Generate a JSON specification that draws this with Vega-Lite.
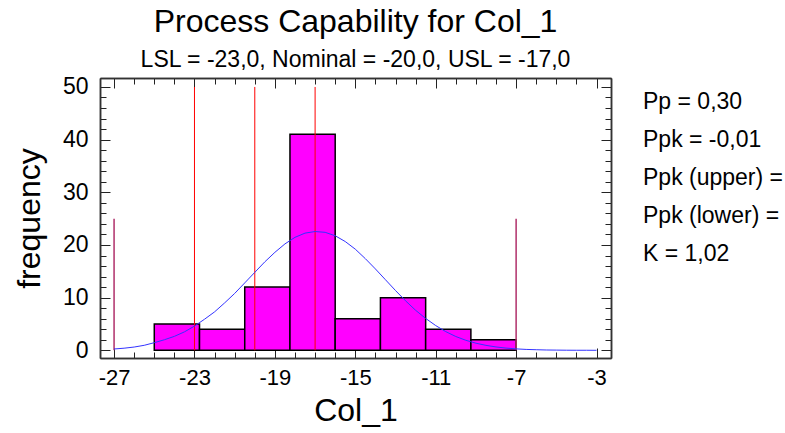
{
  "$schema": "https://vega.github.io/schema/vega-lite/v6.json",
  "background": "white",
  "padding": {"left": 13, "top": 5, "right": 5, "bottom": 5},
  "bounds": "flush",
  "spacing": 22,
  "config": {
    "font": "Liberation Sans",
    "view": {"stroke": null},
    "axis": {"grid": false, "tickColor": "#333333", "tickWidth": 1, "domainColor": "#333333", "domainWidth": 1.5}
  },
  "datasets": {
    "bins": [
      {"bin_start": -25, "bin_end": -22.75, "count": 5},
      {"bin_start": -22.75, "bin_end": -20.5, "count": 4},
      {"bin_start": -20.5, "bin_end": -18.25, "count": 12},
      {"bin_start": -18.25, "bin_end": -16, "count": 41},
      {"bin_start": -16, "bin_end": -13.75, "count": 6},
      {"bin_start": -13.75, "bin_end": -11.5, "count": 10},
      {"bin_start": -11.5, "bin_end": -9.25, "count": 4},
      {"bin_start": -9.25, "bin_end": -7, "count": 2}
    ],
    "specs": [
      {"name": "LSL", "x": -23},
      {"name": "Nominal", "x": -20},
      {"name": "USL", "x": -17}
    ],
    "limits": [
      {"name": "low", "x": -27},
      {"name": "high", "x": -7}
    ],
    "curve": [
      {"x": -27, "f": 0.25}, {"x": -26.5, "f": 0.4}, {"x": -26, "f": 0.62}, {"x": -25.5, "f": 0.95},
      {"x": -25, "f": 1.45}, {"x": -24.5, "f": 2.0}, {"x": -24, "f": 2.65}, {"x": -23.5, "f": 3.5},
      {"x": -23, "f": 4.6}, {"x": -22.5, "f": 5.9}, {"x": -22, "f": 7.3}, {"x": -21.5, "f": 9.0},
      {"x": -21, "f": 10.8}, {"x": -20.5, "f": 12.8}, {"x": -20, "f": 14.8}, {"x": -19.5, "f": 16.8},
      {"x": -19, "f": 18.6}, {"x": -18.5, "f": 20.2}, {"x": -18, "f": 21.45}, {"x": -17.5, "f": 22.25},
      {"x": -17, "f": 22.55}, {"x": -16.5, "f": 22.4}, {"x": -16, "f": 21.75}, {"x": -15.5, "f": 20.65},
      {"x": -15, "f": 19.2}, {"x": -14.5, "f": 17.4}, {"x": -14, "f": 15.45}, {"x": -13.5, "f": 13.4},
      {"x": -13, "f": 11.35}, {"x": -12.5, "f": 9.4}, {"x": -12, "f": 7.6}, {"x": -11.5, "f": 6.05},
      {"x": -11, "f": 4.7}, {"x": -10.5, "f": 3.55}, {"x": -10, "f": 2.62}, {"x": -9.5, "f": 1.9},
      {"x": -9, "f": 1.35}, {"x": -8.5, "f": 0.94}, {"x": -8, "f": 0.64}, {"x": -7.5, "f": 0.42},
      {"x": -7, "f": 0.27}, {"x": -6.5, "f": 0.17}, {"x": -6, "f": 0.11}, {"x": -5.5, "f": 0.06},
      {"x": -5, "f": 0.04}, {"x": -4.5, "f": 0.02}, {"x": -4, "f": 0.01}, {"x": -3.5, "f": 0.01},
      {"x": -3, "f": 0.0}
    ],
    "stats": [
      {"stat": "Pp = 0,30", "order": 1},
      {"stat": "Ppk = -0,01", "order": 2},
      {"stat": "Ppk (upper) =", "order": 3},
      {"stat": "Ppk (lower) =", "order": 4},
      {"stat": "K = 1,02", "order": 5}
    ]
  },
  "hconcat": [
    {
      "width": 511,
      "height": 280,
      "title": {
        "text": "Process Capability for Col_1",
        "subtitle": "LSL = -23,0, Nominal = -20,0, USL = -17,0",
        "fontSize": 32,
        "font": "Liberation Sans",
        "fontWeight": "normal",
        "color": "black",
        "subtitleFont": "Liberation Sans",
        "subtitleFontSize": 23,
        "subtitleColor": "black",
        "subtitlePadding": 10,
        "offset": 3,
        "anchor": "middle",
        "frame": "group"
      },
      "resolve": {"axis": {"x": "independent", "y": "independent"}},
      "layer": [
        {
          "data": {"name": "bins"},
          "mark": {"type": "rect", "fill": "#FF00FF", "stroke": "#000000", "strokeWidth": 1.5},
          "encoding": {
            "x": {
              "field": "bin_start", "type": "quantitative",
              "scale": {"domain": [-27.7, -2.28], "nice": false, "zero": false},
              "axis": {
                "orient": "bottom",
                "title": "Col_1",
                "values": [-27, -23, -19, -15, -11, -7, -3],
                "labelExpr": "'' + datum.value",
                "tickSize": -10,
                "tickColor": "#222222",
                "labelPadding": 19,
                "labelFontSize": 22,
                "labelFont": "Liberation Sans",
                "labelColor": "black",
                "labelOverlap": false,
                "labelFlush": false,
                "labelBound": false,
                "titleFontSize": 32,
                "titleFont": "Liberation Sans",
                "titleFontWeight": "normal",
                "titleColor": "black",
                "titlePadding": 7
              }
            },
            "x2": {"field": "bin_end"},
            "y": {
              "field": "count", "type": "quantitative",
              "scale": {"domain": [-1.46, 51.7], "nice": false, "zero": false},
              "axis": {
                "orient": "left",
                "title": "frequency",
                "values": [0, 10, 20, 30, 40, 50],
                "labelExpr": "'' + datum.value",
                "tickSize": -10,
                "tickColor": "#222222",
                "labelPadding": 22,
                "labelFontSize": 23,
                "labelFont": "Liberation Sans",
                "labelColor": "black",
                "labelOverlap": false,
                "labelFlush": false,
                "labelBound": false,
                "titleFontSize": 32,
                "titleFont": "Liberation Sans",
                "titleFontWeight": "normal",
                "titleColor": "black",
                "titlePadding": 16
              }
            },
            "y2": {"datum": 0}
          }
        },
        {
          "data": {"name": "specs"},
          "mark": {"type": "rule", "color": "#FF0000", "strokeWidth": 1},
          "encoding": {
            "x": {
              "field": "x", "type": "quantitative",
              "scale": {"domain": [-27.7, -2.28], "nice": false, "zero": false},
              "axis": {
                "orient": "bottom",
                "title": null,
                "labels": false,
                "values": [-26,-25,-24,-22,-21,-20,-18,-17,-16,-14,-13,-12,-10,-9,-8,-6,-5,-4],
                "tickSize": -6,
                "tickColor": "#222222"
              }
            },
            "y": {
              "datum": 0, "type": "quantitative",
              "scale": {"domain": [-1.46, 51.7], "nice": false, "zero": false},
              "axis": {
                "orient": "left",
                "title": null,
                "labels": false,
                "values": [2,4,6,8,12,14,16,18,22,24,26,28,32,34,36,38,42,44,46,48],
                "tickSize": -6,
                "tickColor": "#222222"
              }
            },
            "y2": {"datum": 50}
          }
        },
        {
          "data": {"name": "limits"},
          "mark": {"type": "rule", "color": "#B0306A", "strokeWidth": 1.5},
          "encoding": {
            "x": {
              "field": "x", "type": "quantitative",
              "scale": {"domain": [-27.7, -2.28], "nice": false, "zero": false},
              "axis": {
                "orient": "top",
                "title": null,
                "labels": false,
                "values": [-27, -23, -19, -15, -11, -7, -3],
                "tickSize": -10,
                "tickColor": "#222222"
              }
            },
            "y": {
              "datum": 0, "type": "quantitative",
              "scale": {"domain": [-1.46, 51.7], "nice": false, "zero": false},
              "axis": {
                "orient": "right",
                "title": null,
                "labels": false,
                "values": [0, 10, 20, 30, 40, 50],
                "tickSize": -10,
                "tickColor": "#222222"
              }
            },
            "y2": {"datum": 25}
          }
        },
        {
          "data": {"name": "curve"},
          "mark": {"type": "line", "color": "#3333FF", "strokeWidth": 1},
          "encoding": {
            "x": {
              "field": "x", "type": "quantitative",
              "scale": {"domain": [-27.7, -2.28], "nice": false, "zero": false},
              "axis": {
                "orient": "top",
                "title": null,
                "labels": false,
                "values": [-26,-25,-24,-22,-21,-20,-18,-17,-16,-14,-13,-12,-10,-9,-8,-6,-5,-4],
                "tickSize": -6,
                "tickColor": "#222222"
              }
            },
            "y": {
              "field": "f", "type": "quantitative",
              "scale": {"domain": [-1.46, 51.7], "nice": false, "zero": false},
              "axis": {
                "orient": "right",
                "title": null,
                "labels": false,
                "values": [2,4,6,8,12,14,16,18,22,24,26,28,32,34,36,38,42,44,46,48],
                "tickSize": -6,
                "tickColor": "#222222"
              }
            }
          }
        }
      ]
    },
    {
      "width": 20,
      "height": 200,
      "data": {"name": "stats"},
      "mark": {"type": "text", "align": "left", "baseline": "middle", "fontSize": 23, "font": "Liberation Sans", "color": "black"},
      "encoding": {
        "y": {"field": "order", "type": "ordinal", "axis": null, "scale": {"type": "point", "padding": 0.633}},
        "text": {"field": "stat"}
      }
    }
  ]
}
